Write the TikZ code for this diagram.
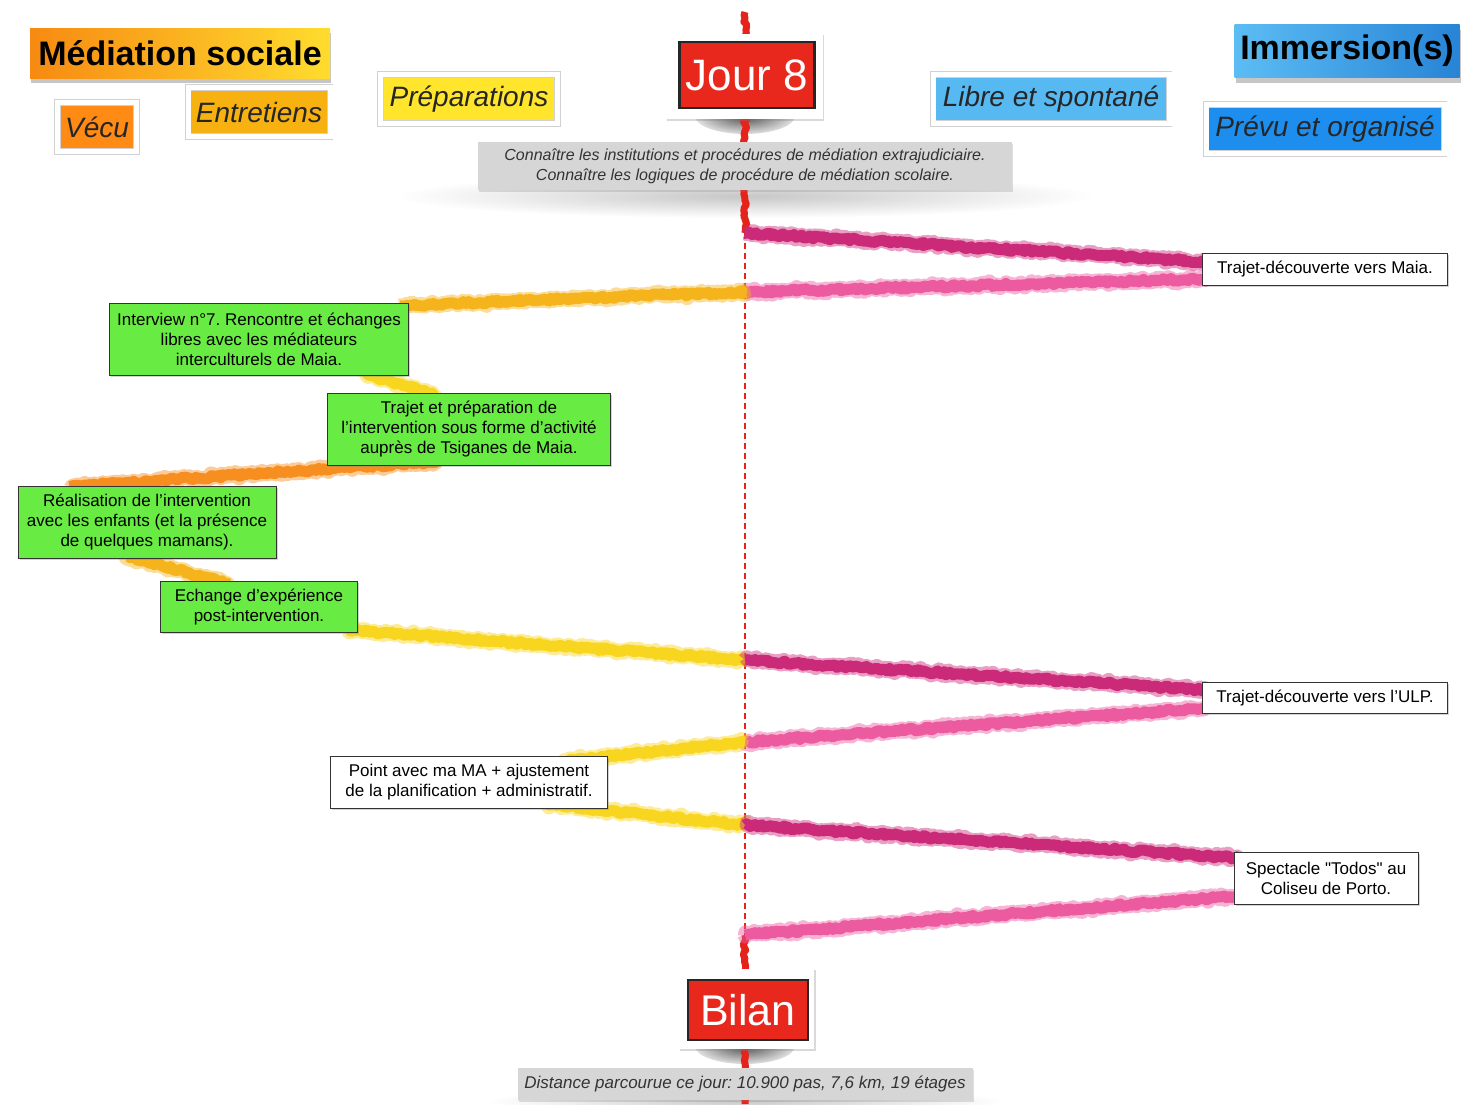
\documentclass[tikz,border=0pt]{standalone}
\usepackage{fontspec}
\setmainfont{Liberation Sans}
\usepackage{xcolor}
\usepackage{tikz}
\usetikzlibrary{arrows.meta, positioning, shadows, calc, backgrounds, decorations.pathmorphing}
\frenchspacing

\definecolor{medorange}{HTML}{F78A12}
\definecolor{medyellow}{HTML}{FFDC2E}
\definecolor{immlight}{HTML}{5CBDF4}
\definecolor{immdark}{HTML}{2784D6}
\definecolor{vecuorange}{HTML}{FF8A14}
\definecolor{entretienorange}{HTML}{F7B212}
\definecolor{prepyellow}{HTML}{FFE52B}
\definecolor{librebleu}{HTML}{57B9F2}
\definecolor{prevubleu}{HTML}{1E8EEE}
\definecolor{boxgreen}{HTML}{68EB42}
\definecolor{signred}{HTML}{E8281C}
\definecolor{pinkdark}{HTML}{CB2A79}
\definecolor{pinklight}{HTML}{EC5BA0}
\definecolor{lineorange}{HTML}{F68F1F}
\definecolor{lineamber}{HTML}{F5B31C}
\definecolor{lineyellow}{HTML}{F8D51E}
\definecolor{timered}{HTML}{E5231B}

\tikzset{
  header/.style={font=\fontsize{17}{19}\selectfont\bfseries, text=black, inner sep=0pt,
    drop shadow={shadow xshift=0.5pt, shadow yshift=-2.5pt, opacity=0.45}},
  tag/.style={fill=#1, draw=black!18, double=white, double distance=2.5pt, line width=0.3pt,
    inner sep=0pt, text=black!85, font=\fontsize{14}{16}\selectfont\itshape},
  sign/.style={fill=signred, draw=black!85, line width=1.4pt, text=white, inner sep=0pt},
  greybox/.style={fill=black!16, inner sep=0pt, align=center, text=black!80,
    font=\fontsize{8}{10}\selectfont\itshape,
    drop shadow={shadow xshift=0.5pt, shadow yshift=-1pt, opacity=0.25}},
  stepbox/.style={fill=#1, draw=black!80, line width=0.5pt, inner sep=0pt, align=center,
    font=\fontsize{8.5}{10}\selectfont,
    drop shadow={shadow xshift=0.8pt, shadow yshift=-0.8pt, opacity=0.35}},
  crayon/.style={
    preaction={draw=#1, opacity=0.45, line width=7.5pt, line join=round, decorate,
      decoration={random steps, segment length=0.7pt, amplitude=1.1pt}},
    draw=#1, line width=5.5pt, line join=round, decorate,
    decoration={random steps, segment length=1.2pt, amplitude=0.8pt}},
  timeline/.style={draw=timered, line width=3.5pt, line join=round, decorate,
    decoration={random steps, segment length=1.5pt, amplitude=0.8pt}}
}

\begin{document}
\begin{tikzpicture}[x=0.5pt, y=-0.5pt]
  \pgfmathsetseed{42}
  \useasboundingbox (0,0) rectangle (1467,1104);

  % headers
  \node[header, left color=medorange, right color=medyellow, minimum width=150pt, minimum height=25pt]
    (medsoc) at (180,53) {Médiation sociale};
  \node[tag=vecuorange, minimum width=39.5pt, minimum height=24.5pt] (vecu) at (97,127) {Vécu};
  \node[tag=entretienorange, minimum width=71pt, minimum height=24.5pt] (entretiens) at (259,112) {Entretiens};
  \node[tag=prepyellow, minimum width=88.5pt, minimum height=24.5pt] (preparations) at (469,99) {Préparations};
  \node[tag=librebleu, minimum width=118pt, minimum height=24.5pt] (libre) at (1051,99) {Libre et spontané};
  \node[header, left color=immlight, right color=immdark, minimum width=112.5pt, minimum height=26.5pt]
    (immersion) at (1347,51) {Immersion(s)};
  \node[tag=prevubleu, minimum width=119pt, minimum height=24.5pt] (prevu) at (1325,129) {Prévu et organisé};

  % day
  \node[sign, minimum width=67.5pt, minimum height=33pt, font=\fontsize{22}{24}\selectfont]
    (jour) at (747,75) {Jour 8};
  \node[greybox, minimum width=267pt, minimum height=24pt] (connaitre) at (745,166)
    {Connaître les institutions et procédures de médiation extrajudiciaire.\\
     Connaître les logiques de procédure de médiation scolaire.};

  % activities
  \node[stepbox=white, minimum width=122.5pt, minimum height=16pt] (maia) at (1325,269)
    {Trajet-découverte vers Maia.};
  \node[stepbox=boxgreen, minimum width=149.5pt, minimum height=36pt] (interview) at (259,339)
    {Interview n°7. Rencontre et échanges\\libres avec les médiateurs\\interculturels de Maia.};
  \node[stepbox=boxgreen, minimum width=141.5pt, minimum height=36pt] (trajet) at (469,429)
    {Trajet et préparation de\\l'intervention sous forme d'activité\\auprès de Tsiganes de Maia.};
  \node[stepbox=boxgreen, minimum width=129pt, minimum height=36pt] (realisation) at (147,522)
    {Réalisation de l'intervention\\avec les enfants (et la présence\\de quelques mamans).};
  \node[stepbox=boxgreen, minimum width=98.5pt, minimum height=25.5pt] (echange) at (259,607)
    {Echange d'expérience\\post-intervention.};
  \node[stepbox=white, minimum width=122.5pt, minimum height=15.5pt] (ulp) at (1325,698)
    {Trajet-découverte vers l'ULP.};
  \node[stepbox=white, minimum width=138.5pt, minimum height=26pt] (point) at (469,782)
    {Point avec ma MA + ajustement\\de la planification + administratif.};
  \node[stepbox=white, minimum width=92pt, minimum height=26pt] (spectacle) at (1326,878)
    {Spectacle \textquotedbl Todos\textquotedbl\ au\\Coliseu de Porto.};

  % end of day
  \node[sign, minimum width=60pt, minimum height=30pt, font=\fontsize{21.5}{23}\selectfont]
    (bilan) at (748,1010) {Bilan};
  \node[greybox, minimum width=227.5pt, minimum height=16pt, font=\fontsize{8.5}{10}\selectfont\itshape]
    (distance) at (745,1084) {Distance parcourue ce jour: 10.900 pas, 7,6 km, 19 étages};

  % points on the time line
  \coordinate (top) at (745,12);
  \coordinate (t1) at (745,233);
  \coordinate (t2) at (745,292);
  \coordinate (t3) at (745,660);
  \coordinate (t4) at (745,742);
  \coordinate (t5) at (745,825);
  \coordinate (t6) at (745,935);
  \coordinate (bottom) at (745,1104);

  \begin{scope}[on background layer]
    % soft shadows
    \shade[inner color=black!22, outer color=white] (745,196) ellipse (175pt and 11pt);
    \shade[inner color=black!22, outer color=white] (745,1101) ellipse (130pt and 6pt);
    \begin{scope}
      \clip (680,118) rectangle (810,150);
      \shade[inner color=black!70, outer color=black!12] (745,116) ellipse (25pt and 9pt);
    \end{scope}
    \begin{scope}
      \clip (680,1048) rectangle (810,1080);
      \shade[inner color=black!70, outer color=black!12] (745,1046) ellipse (25pt and 9pt);
    \end{scope}

    % time line
    \draw[timeline] (top) -- (t1);
    \draw[timered, line width=1.2pt, dash pattern=on 3pt off 2pt] (t1) -- (t6);
    \draw[timeline] (t6) -- (bottom);

    % crayon strokes
    \draw[crayon=pinkdark] (t1) -- ($(maia.west)+(5,-7)$);
    \draw[crayon=pinklight] ($(maia.west)+(5,10)$) -- (t2);
    \draw[crayon=lineamber] (t2) -- ($(interview.north east)+(-10,3)$);
    \draw[crayon=lineyellow] ($(interview.south east)+(-45,-2)$) -- ($(trajet.north west)+(110,3)$);
    \draw[crayon=lineorange] ($(trajet.south west)+(112,-4)$) -- ($(realisation.north west)+(52,1)$);
    \draw[crayon=lineamber] ($(realisation.south west)+(110,-2)$) -- ($(echange.north west)+(70,3)$);
    \draw[crayon=lineyellow] ($(echange.south east)+(-10,-3)$) -- (t3);
    \draw[crayon=pinkdark] (t3) -- ($(ulp.west)+(5,-8)$);
    \draw[crayon=pinklight] ($(ulp.west)+(5,10)$) -- (t4);
    \draw[crayon=lineyellow] (t4) -- ($(point.north east)+(-45,6)$);
    \draw[crayon=lineyellow] ($(point.south east)+(-60,-4)$) -- (t5);
    \draw[crayon=pinkdark] (t5) -- ($(spectacle.west)+(5,-20)$);
    \draw[crayon=pinklight] ($(spectacle.west)+(5,18)$) -- (t6);

    % white frames of the signs
    \fill[white, drop shadow={shadow xshift=0.6pt, shadow yshift=-0.6pt, opacity=0.3}]
      ($(jour.south west)+(-12,10)$) rectangle ($(jour.north east)+(7,-7)$);
    \fill[white, drop shadow={shadow xshift=0.6pt, shadow yshift=-0.6pt, opacity=0.3}]
      ($(bilan.south west)+(-8,8)$) rectangle ($(bilan.north east)+(5,-10)$);
  \end{scope}
\end{tikzpicture}
\end{document}
